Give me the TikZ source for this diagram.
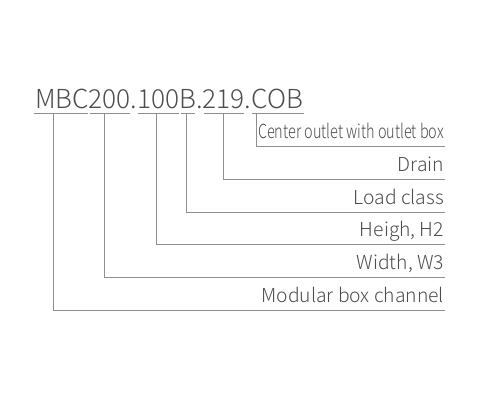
\documentclass[tikz,border=0pt]{standalone}
\usepackage{fontspec}
\setmainfont{Noto Sans CJK SC Light}
\usepackage{graphicx}
\usetikzlibrary{positioning,calc}
\definecolor{codegray}{HTML}{4D4D4D}
\definecolor{linegray}{HTML}{8F8F8F}
\tikzset{
	part/.style={inner sep=0pt,outer sep=0pt,font=\fontsize{26.2}{26.2}\selectfont,text=codegray},
	lbl/.style={anchor=base east,inner sep=0pt,outer sep=0pt,font=\fontsize{19.3}{19.3}\selectfont,text=codegray},
	lead/.style={draw=linegray,line width=0.9pt}
}

\begin{document}
\begin{tikzpicture}[x=1pt,y=-1pt]
	\useasboundingbox (0,0) rectangle (480,400);
	
	% the code, one node per part
	\node[part,anchor=base west] (mbc) at (35,108) {MBC};
	\node[part,base right=0pt of mbc] (wid) {200};
	\node[part,base right=0pt of wid] (dota) {.};
	\node[part,base right=0pt of dota] (hgt) {100};
	\node[part,base right=0pt of hgt] (cls) {B};
	\node[part,base right=0pt of cls] (dotb) {.};
	\node[part,base right=0pt of dotb] (drn) {219};
	\node[part,base right=0pt of drn] (dotc) {.};
	\node[part,base right=0pt of dotc] (cob) {COB};
	
	% underlines
	\draw[lead] ([shift={(-1,5.5)}]mbc.south west) -- ([shift={(-1,5.5)}]mbc.south east);
	\draw[lead] ([shift={(1,5.5)}]wid.south west) -- ([shift={(-1,5.5)}]wid.south east);
	\draw[lead] ([shift={(1,5.5)}]hgt.south west) -- ([shift={(-1,5.5)}]hgt.south east);
	\draw[lead] ([shift={(1,5.5)}]cls.south west) -- ([shift={(-1,5.5)}]cls.south east);
	\draw[lead] ([shift={(1,5.5)}]drn.south west) -- ([shift={(-1,5.5)}]drn.south east);
	\draw[lead] ([shift={(1,5.5)}]cob.south west) -- ([shift={(1,5.5)}]cob.south east);
	
	% labels
	\node[lbl] (outlet) at (444,138) {\scalebox{0.75}[1]{Center outlet with outlet box}};
	\node[lbl] (drain) at (444,171) {Drain};
	\node[lbl] (load) at (444,204) {Load class};
	\node[lbl] (height) at (444,236.5) {Heigh, H2};
	\node[lbl] (width) at (444,269) {Width, W3};
	\node[lbl] (modular) at (444,302) {Modular box channel};
	
	% leaders
	\coordinate (tmbc) at ($(mbc.south west)!0.35!(mbc.south east)+(0,5.5)$);
	\coordinate (twid) at ($(wid.south west)!0.38!(wid.south east)+(0,5.5)$);
	\coordinate (thgt) at ($(hgt.south west)!0.44!(hgt.south east)+(0,5.5)$);
	\coordinate (tcls) at ($(cls.south west)!0.4!(cls.south east)+(0,5.5)$);
	\coordinate (tdrn) at ($(drn.south west)!0.5!(drn.south east)+(0,5.5)$);
	\coordinate (tcob) at ($(cob.south west)+(5,5.5)$);
	
	\draw[lead] (tcob) |- ([shift={(1,8)}]outlet.base east);
	\draw[lead] (tdrn) |- ([shift={(1,8)}]drain.base east);
	\draw[lead] (tcls) |- ([shift={(1,8)}]load.base east);
	\draw[lead] (thgt) |- ([shift={(1,8)}]height.base east);
	\draw[lead] (twid) |- ([shift={(1,8)}]width.base east);
	\draw[lead] (tmbc) |- ([shift={(1,8)}]modular.base east);
\end{tikzpicture}
\end{document}
